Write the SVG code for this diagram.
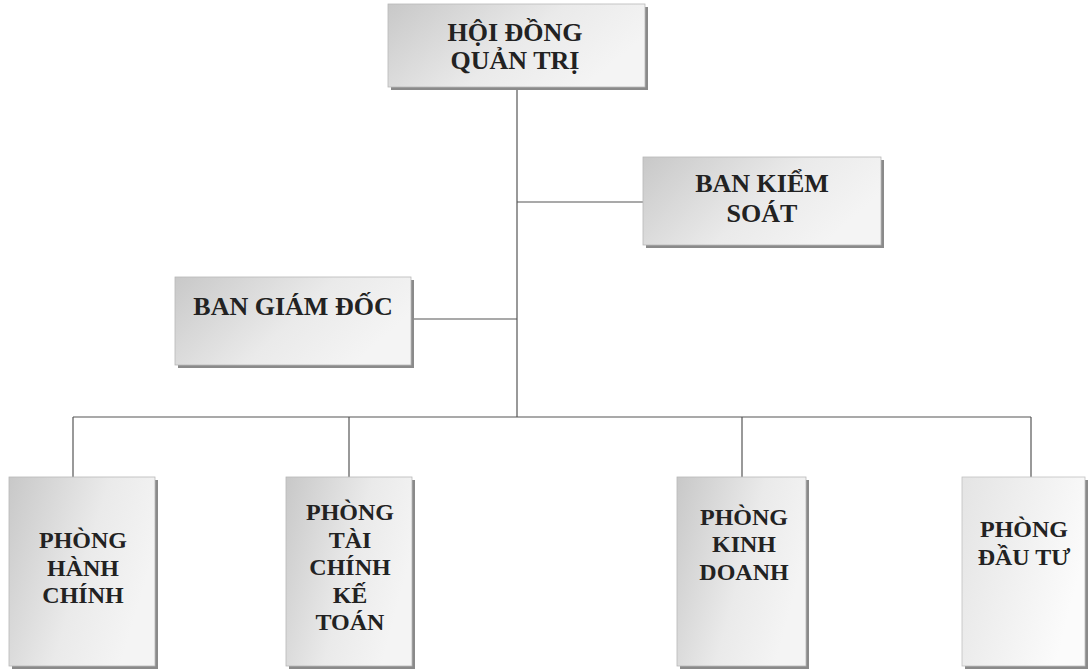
<svg xmlns="http://www.w3.org/2000/svg" width="1091" height="672" viewBox="0 0 1091 672">
<style>
.box{fill:url(#g);stroke:#b8b8b8;stroke-width:0.8}
.lite{fill:url(#g2);stroke:#c0c0c0;stroke-width:0.8}
.sh{fill:#8a8a8a}
.t{font-family:"Liberation Serif","Times New Roman",serif;font-weight:bold;fill:#222;text-anchor:middle}
.up{font-size:26px}
.lo{font-size:24px}
.c{stroke:#555;stroke-width:1.2;fill:none}
</style>
<defs>
<linearGradient id="g" x1="0" y1="0" x2="1" y2="0.4">
<stop offset="0" stop-color="#c8c8c8"/>
<stop offset="0.6" stop-color="#eaeaea"/>
<stop offset="1" stop-color="#f4f4f4"/>
</linearGradient>
<linearGradient id="g2" x1="0" y1="0" x2="1" y2="0.4">
<stop offset="0" stop-color="#e4e4e4"/>
<stop offset="1" stop-color="#fbfbfb"/>
</linearGradient>
</defs>
<rect width="1091" height="672" fill="#fff"/>
<g id="connectors">
<line class="c" x1="517" y1="90" x2="517" y2="417"/>
<line class="c" x1="517" y1="202" x2="643" y2="202"/>
<line class="c" x1="414" y1="319" x2="517" y2="319"/>
<line class="c" x1="73" y1="417" x2="1031" y2="417"/>
<line class="c" x1="73" y1="417" x2="73" y2="477"/>
<line class="c" x1="349" y1="417" x2="349" y2="477"/>
<line class="c" x1="742" y1="417" x2="742" y2="477"/>
<line class="c" x1="1031" y1="417" x2="1031" y2="477"/>
</g>
<g id="hdqt">
<rect class="sh" x="391" y="7" width="257" height="83"/>
<rect class="box" x="388" y="4" width="257" height="83"/>
<text class="t up" x="515" y="41">HỘI ĐỒNG</text>
<text class="t up" x="515" y="69">QUẢN TRỊ</text>
</g>
<g id="bks">
<rect class="sh" x="646" y="160" width="238" height="88"/>
<rect class="box" x="643" y="157" width="238" height="88"/>
<text class="t up" x="762" y="192">BAN KIỂM</text>
<text class="t up" x="762" y="222">SOÁT</text>
</g>
<g id="bgd">
<rect class="sh" x="178" y="280" width="236" height="88"/>
<rect class="box" x="175" y="277" width="236" height="88"/>
<text class="t up" x="293" y="315">BAN GIÁM ĐỐC</text>
</g>
<g id="phc">
<rect class="sh" x="12" y="480" width="146" height="189"/>
<rect class="box" x="9" y="477" width="146" height="189"/>
<text class="t lo" x="83" y="548">PHÒNG</text>
<text class="t lo" x="83" y="576">HÀNH</text>
<text class="t lo" x="83" y="603">CHÍNH</text>
</g>
<g id="ptckt">
<rect class="sh" x="289" y="480" width="126" height="189"/>
<rect class="box" x="286" y="477" width="126" height="189"/>
<text class="t lo" x="350" y="520">PHÒNG</text>
<text class="t lo" x="350" y="548">TÀI</text>
<text class="t lo" x="350" y="575">CHÍNH</text>
<text class="t lo" x="350" y="603">KẾ</text>
<text class="t lo" x="350" y="630">TOÁN</text>
</g>
<g id="pkd">
<rect class="sh" x="680" y="480" width="129" height="189"/>
<rect class="box" x="677" y="477" width="129" height="189"/>
<text class="t lo" x="744" y="525">PHÒNG</text>
<text class="t lo" x="744" y="552">KINH</text>
<text class="t lo" x="744" y="580">DOANH</text>
</g>
<g id="pdt">
<rect class="sh" x="965" y="480" width="123" height="189"/>
<rect class="lite" x="962" y="477" width="123" height="189"/>
<text class="t lo" x="1024" y="537">PHÒNG</text>
<text class="t lo" x="1024" y="565">ĐẦU TƯ</text>
</g>
</svg>
